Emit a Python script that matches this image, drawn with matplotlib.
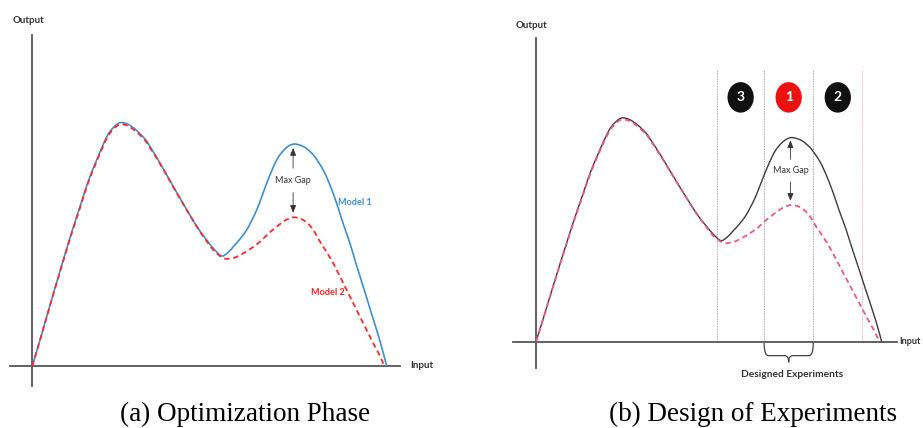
import matplotlib
matplotlib.use('Agg')
import matplotlib.pyplot as plt
from matplotlib.patches import Ellipse, PathPatch
from matplotlib.path import Path

# ---- data (arbitrary units) ----
x_model1 = [0.000, 0.203, 0.406, 0.641, 0.875, 1.106, 1.346, 1.572, 1.817, 2.099, 2.277, 2.475,
            2.700, 2.946, 3.180, 3.321, 3.603, 3.883, 4.165, 4.447, 4.690, 4.921, 5.127, 5.344,
            5.522, 5.672, 5.861, 6.050, 6.191, 6.332, 6.473, 6.614, 6.755, 6.896, 7.018, 7.131,
            7.257, 7.393, 7.540, 7.695, 7.836, 7.977, 8.211, 8.400, 8.589, 8.767, 8.964, 9.148,
            9.340, 9.529, 9.718, 9.867, 10.000]
y_model1 = [0.000, 0.996, 2.020, 3.197, 4.344, 5.451, 6.529, 7.541, 8.443, 9.385, 9.754, 9.971,
            9.906, 9.652, 9.303, 8.996, 8.320, 7.602, 6.885, 6.189, 5.615, 5.164, 4.795, 4.508,
            4.652, 4.889, 5.205, 5.574, 5.963, 6.393, 6.926, 7.488, 7.992, 8.443, 8.709, 8.893,
            9.037, 9.098, 9.057, 8.955, 8.791, 8.566, 8.033, 7.418, 6.668, 5.861, 5.029, 4.139,
            3.250, 2.357, 1.475, 0.738, 0.000]
x_model2 = [0.000, 0.203, 0.406, 0.641, 0.875, 1.106, 1.346, 1.572, 1.817, 2.099, 2.277, 2.475,
            2.700, 2.946, 3.180, 3.321, 3.603, 3.883, 4.165, 4.447, 4.690, 4.921, 5.127, 5.344,
            5.485, 5.720, 5.954, 6.191, 6.425, 6.651, 6.896, 7.131, 7.272, 7.393, 7.582, 7.779,
            7.949, 8.090, 8.288, 8.493, 8.682, 8.871, 9.058, 9.247, 9.436, 9.622, 9.783, 9.935]
y_model2 = [0.000, 0.980, 2.000, 3.170, 4.310, 5.410, 6.480, 7.490, 8.390, 9.320, 9.690, 9.900,
            9.840, 9.590, 9.250, 8.950, 8.290, 7.580, 6.870, 6.180, 5.600, 5.120, 4.720, 4.467,
            4.393, 4.447, 4.619, 4.836, 5.094, 5.410, 5.709, 5.963, 6.053, 6.094, 6.033, 5.840,
            5.533, 5.164, 4.713, 4.209, 3.668, 3.115, 2.570, 2.020, 1.475, 0.930, 0.492, 0.000]
region_bounds = [5.24, 6.60, 8.02, 9.44]
region_labels = ['3', '1', '2']
region_colors = ['#111111', '#ee1111', '#111111']
gap_x = 7.36

SMALL = ['Lato', 'DejaVu Sans']
AXC = '#555555'

fig = plt.figure(figsize=(9.23, 4.28), dpi=100)
axA = fig.add_axes([0, 0, 460 / 923, 1])
axB = fig.add_axes([460 / 923, 0, 463 / 923, 1])

axA.set_xlim(-0.911, 12.07)
axA.set_ylim(-2.541, 15.0)
axB.set_xlim(-2.198, 11.195)
axB.set_ylim(-3.846, 15.23)


def setup_axes(ax, xb, yb):
    ax.set_xticks([])
    ax.set_yticks([])
    ax.patch.set_alpha(0)
    for s in ['top', 'right']:
        ax.spines[s].set_visible(False)
    ax.spines['left'].set_position(('data', 0))
    ax.spines['bottom'].set_position(('data', 0))
    ax.spines['left'].set_bounds(*yb)
    ax.spines['bottom'].set_bounds(*xb)
    for s in ['left', 'bottom']:
        ax.spines[s].set_color(AXC)
        ax.spines[s].set_linewidth(1.3)


def smooth_curve(ax, xs, ys, **kw):
    """Draw a smooth Bezier curve passing through the data points."""
    pts = list(zip(xs, ys))
    n = len(pts)
    verts = [pts[0]]
    codes = [Path.MOVETO]
    for i in range(n - 1):
        p0 = pts[max(i - 1, 0)]
        p1 = pts[i]
        p2 = pts[i + 1]
        p3 = pts[min(i + 2, n - 1)]
        c1 = (p1[0] + (p2[0] - p0[0]) / 6, p1[1] + (p2[1] - p0[1]) / 6)
        c2 = (p2[0] - (p3[0] - p1[0]) / 6, p2[1] - (p3[1] - p1[1]) / 6)
        verts += [c1, c2, p2]
        codes += [Path.CURVE4] * 3
    ax.add_patch(PathPatch(Path(verts, codes), fc='none', capstyle='butt', **kw))


setup_axes(axA, (-0.63, 10.38), (-0.82, 13.57))
setup_axes(axB, (-0.665, 10.43), (-1.17, 13.53))

# ---- panel (a) ----
smooth_curve(axA, x_model1, y_model1, ec='#3f8fcf', lw=1.2, zorder=3)
smooth_curve(axA, x_model2, y_model2, ec='#ff2a2a', lw=1.3, ls=(0, (3, 2)), zorder=4)
axA.text(10.66, 0, 'Input', fontsize=7, fontweight='bold', family=SMALL, color='#333333',
         ha='left', va='center')
axA.text(-0.12, 14.18, 'Output', fontsize=7, fontweight='bold', family=SMALL, color='#333333',
         ha='center', va='center')
axA.text(9.11, 6.72, 'Model 1', fontsize=6.6, fontweight='bold', family=SMALL, color='#3f8fcf',
         ha='center', va='center')
axA.text(8.34, 3.03, 'Model 2', fontsize=6.6, fontweight='bold', family=SMALL, color='#ff2020',
         ha='center', va='center')


def max_gap(ax, top, bottom):
    mid = (top + bottom) / 2
    ax.text(gap_x, mid, 'Max Gap', fontsize=6.5, family=SMALL, color='#333333',
            ha='center', va='center')
    ap = dict(arrowstyle='-|>,head_length=0.45,head_width=0.18', lw=0.6, color='#333333',
              shrinkA=0, shrinkB=0)
    ax.annotate('', xy=(gap_x, top), xytext=(gap_x, mid + 0.5), arrowprops=ap)
    ax.annotate('', xy=(gap_x, bottom), xytext=(gap_x, mid - 0.5), arrowprops=ap)


m1_peak2 = max(y for x, y in zip(x_model1, y_model1) if x > 6)
m2_peak2 = max(y for x, y in zip(x_model2, y_model2) if x > 6)
max_gap(axA, m1_peak2 - 0.16, m2_peak2 + 0.18)

# ---- panel (b) ----
for i, xb in enumerate(region_bounds):
    c = '#f2b8c0' if i == len(region_bounds) - 1 else '#a8a8a8'
    axB.plot([xb, xb], [0, 12.11], color=c, lw=0.6, ls=(0, (2, 1)), zorder=1)

smooth_curve(axB, x_model1, y_model1, ec='#3c3c3c', lw=1.0, zorder=3)
smooth_curve(axB, x_model2, y_model2, ec='#f2577d', lw=1.3, ls=(0, (3, 2)), zorder=4)
max_gap(axB, m1_peak2 - 0.12, m2_peak2 + 0.18)

for lab, col, x0, x1 in zip(region_labels, region_colors, region_bounds[:-1], region_bounds[1:]):
    cx = (x0 + x1) / 2
    axB.add_patch(Ellipse((cx, 10.89), 0.76, 1.36, fc=col, ec='none', zorder=5))
    axB.text(cx, 10.89, lab, color='white', fontsize=10, fontweight='bold', family=SMALL,
             ha='center', va='center', zorder=6)

# brace under designed experiments region
bx0, bx1 = region_bounds[1], region_bounds[2]
bxc = (bx0 + bx1) / 2
yt, yh, ytip = -0.06, -0.62, -0.92
verts = [(bx0, yt), (bx0, yh), (bx0 + 0.12, yh),
         (bxc - 0.12, yh), (bxc, yh), (bxc, ytip),
         (bxc, yh), (bxc + 0.12, yh),
         (bx1 - 0.12, yh), (bx1, yh), (bx1, yt)]
codes = [Path.MOVETO, Path.CURVE3, Path.CURVE3,
         Path.LINETO, Path.CURVE3, Path.CURVE3,
         Path.CURVE3, Path.CURVE3,
         Path.LINETO, Path.CURVE3, Path.CURVE3]
axB.add_patch(PathPatch(Path(verts, codes), fc='none', ec='#444444', lw=0.9))
axB.text(7.40, -1.48, 'Designed Experiments', fontsize=7.3, fontweight='bold', family=SMALL,
         color='#333333', ha='center', va='center')
axB.text(11.13, 0, 'Input', fontsize=6.6, fontweight='bold', family=SMALL, color='#333333',
         ha='right', va='center')
axB.text(-0.12, 14.11, 'Output', fontsize=7, fontweight='bold', family=SMALL, color='#333333',
         ha='center', va='center')

# ---- captions ----
fig.text(245 / 923, 1 - 414 / 428, '(a) Optimization Phase', family='Liberation Serif',
         fontsize=19.5, ha='center', va='center')
fig.text(753 / 923, 1 - 414 / 428, '(b) Design of Experiments', family='Liberation Serif',
         fontsize=19.5, ha='center', va='center')

fig.savefig('out.png', dpi=100)
